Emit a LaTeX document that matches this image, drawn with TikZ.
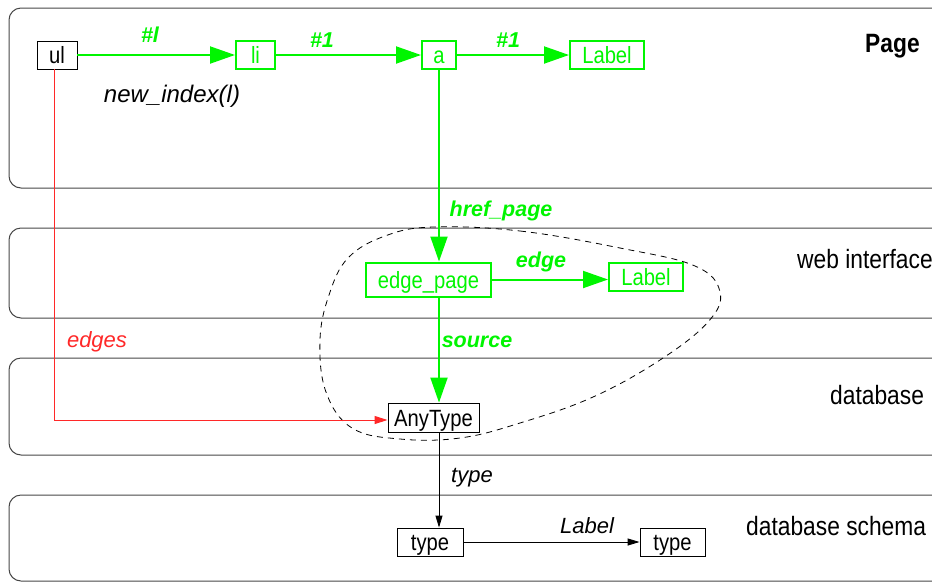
\documentclass[tikz,border=0pt]{standalone}
\usepackage{fontspec}
\setmainfont{Liberation Sans}
\newfontfamily\narrowfont{Liberation Sans}[FakeStretch=0.86]
\usetikzlibrary{arrows.meta}
\definecolor{lime}{RGB}{0,245,0}
\definecolor{redline}{RGB}{255,40,40}
\definecolor{bandline}{RGB}{70,70,70}
\tikzset{
  band/.style={draw=bandline, line width=1pt, rounded corners=12pt},
  obj/.style={draw, line width=0.9pt, inner sep=0pt, minimum height=28pt,
    text height=19pt, text depth=2pt,
    font=\narrowfont\fontsize{23.5}{26}\selectfont},
  gobj/.style={obj, draw=lime, text=lime, line width=2pt},
  heading/.style={anchor=base west, inner sep=0pt,
    font=\narrowfont\fontsize{26.5}{30}\selectfont},
  glabel/.style={anchor=base, inner sep=0pt, text=lime,
    font=\bfseries\itshape\fontsize{21.5}{24}\selectfont},
  ilabel/.style={anchor=base, inner sep=0pt,
    font=\itshape\fontsize{22}{25}\selectfont},
  garrow/.style={draw=lime, line width=2pt,
    -{Triangle[length=25pt,width=17pt]}, fill=lime},
  barrow/.style={draw=black, line width=0.9pt,
    -{Triangle[length=12pt,width=7pt]}},
  rarrow/.style={draw=redline, line width=1pt,
    -{Triangle[length=13pt,width=8pt]}},
  lasso/.style={draw=black, line width=0.8pt, dash pattern=on 6pt off 5pt}
}
\begin{document}
\begin{tikzpicture}[x=1pt, y=-1pt]
\useasboundingbox (0,0) rectangle (932,582);
\clip (0,0) rectangle (932,582);

% layer bands
\draw[band] (9,8) rectangle (960,188);
\draw[band] (9,228) rectangle (960,318);
\draw[band] (9,358) rectangle (960,455);
\draw[band] (9,495) rectangle (960,581);

% layer names
\node[heading, font=\narrowfont\bfseries\fontsize{26.5}{30}\selectfont] (hpage) at (865,52) {Page};
\node[heading] (hweb) at (797,268) {web interface};
\node[heading] (hdb) at (830,404) {database};
\node[heading] (hschema) at (746,535) {database schema};

% objects
\node[obj, minimum width=40pt] (ul) at (57,55) {ul};
\node[gobj, minimum width=39pt] (li) at (255.5,55) {li};
\node[gobj, minimum width=34pt] (a) at (439,55) {a};
\node[gobj, minimum width=74pt] (lab1) at (607,55) {Label};
\node[gobj, minimum width=125pt, minimum height=34pt] (edgepage) at (428.5,279.5) {edge\_page};
\node[gobj, minimum width=74pt] (lab2) at (646,276.5) {Label};
\node[obj, minimum width=91pt, minimum height=29pt] (anytype) at (433.5,417.5) {AnyType};
\node[obj, minimum width=66pt] (type1) at (430,542) {type};
\node[obj, minimum width=65pt] (type2) at (672.5,542) {type};

% grouping outline
\draw[lasso] plot[smooth cycle, tension=0.65] coordinates {
  (433,227) (520,231) (620,248) (695,266) (720,292) (708,322)
  (660,360) (593,397) (520,423) (460,438) (400,439) (352,428)
  (326,392) (320,340) (329,295) (348,258) (385,236)};

% green links
\draw[garrow] (ul.east) -- (li.west);
\draw[garrow] (li.east) -- (a.west);
\draw[garrow] (a.east) -- (lab1.west);
\draw[garrow] (a.south) -- (a.south |- edgepage.north);
\draw[garrow] (edgepage.south -| a) -- (anytype.north -| a);
\draw[garrow] (edgepage.east) -- (edgepage.east -| lab2.west);

% red link
\draw[rarrow] ([xshift=-3pt]ul.south) |- ([yshift=-2.5pt]anytype.west);

% black links
\draw[barrow] ([xshift=5.5pt]anytype.south) -- ([xshift=5.5pt]anytype.south |- type1.north);
\draw[barrow] (type1.east) -- (type2.west);

% link labels
\node[glabel] (l1) at (150,42) {\#l};
\node[glabel] (l2) at (322,47) {\#1};
\node[glabel] (l3) at (508,47) {\#1};
\node[ilabel, font=\itshape\fontsize{24}{27}\selectfont] (newidx) at (172,102) {new\_index(l)};
\node[glabel] (l4) at (501,216) {href\_page};
\node[glabel] (l5) at (541,267) {edge};
\node[glabel] (l6) at (477,347) {source};
\node[ilabel, text=redline] (l7) at (97,347) {edges};
\node[ilabel] (l8) at (472,482) {type};
\node[ilabel] (l9) at (587,533) {Label};
\end{tikzpicture}
\end{document}
